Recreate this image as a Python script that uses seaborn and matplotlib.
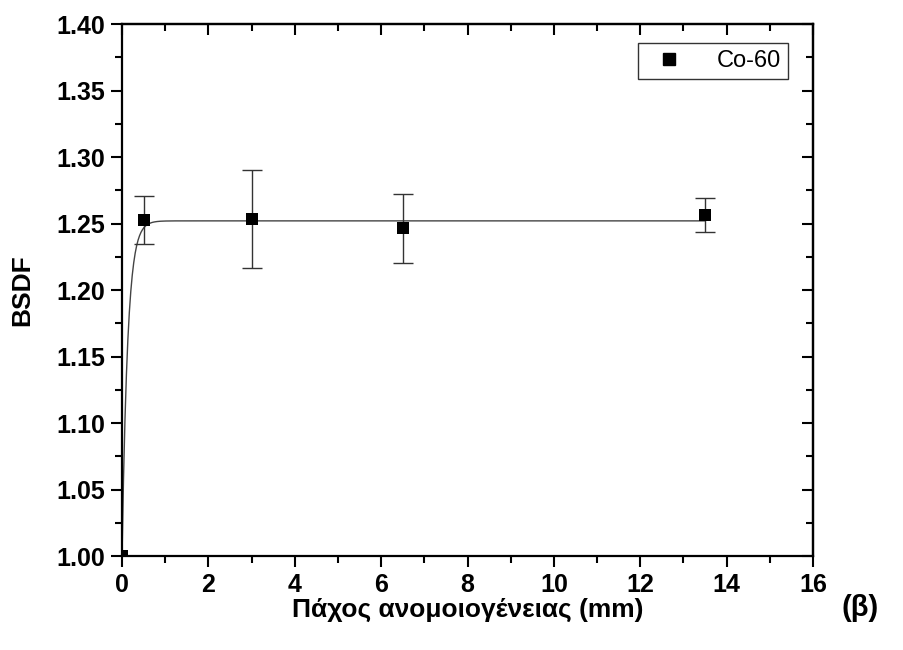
import numpy as np
import pandas as pd
import matplotlib
matplotlib.use("Agg")
import matplotlib.pyplot as plt
from matplotlib.lines import Line2D
from matplotlib.ticker import MultipleLocator, FormatStrFormatter
import seaborn as sns

# Measured BSDF vs thickness of inhomogeneity (Co-60 beam)
thickness_mm = [0.0, 0.5, 3.0, 6.5, 13.5]
bsdf = [1.000, 1.2526, 1.2534, 1.2464, 1.2564]
err_low = [0.0, 0.0182, 0.0371, 0.0263, 0.0130]
err_high = [0.0, 0.0179, 0.0368, 0.0258, 0.0130]

# Saturating exponential fit: y = y_sat - amp * exp(-x / tau)
fit_y_sat = 1.252
fit_amp = 0.252
fit_tau = 0.13

sns.set_style("white")
plt.rcParams["font.family"] = ["Liberation Sans", "DejaVu Sans"]
plt.rcParams.update({"text.color": "black", "axes.labelcolor": "black",
                     "xtick.color": "black", "ytick.color": "black",
                     "axes.edgecolor": "black"})

fig = plt.figure(figsize=(9.04, 6.5), dpi=100)
ax = fig.add_axes([0.135, 0.1446, 0.7643, 0.8184])

x_fit = np.linspace(0, max(thickness_mm), 800)
fit_df = pd.DataFrame({"x": x_fit,
                       "y": fit_y_sat - fit_amp * np.exp(-x_fit / fit_tau)})
sns.lineplot(data=fit_df, x="x", y="y", ax=ax, color="#444444",
             linewidth=1.0, zorder=2)

ax.errorbar(thickness_mm[1:], bsdf[1:],
            yerr=[err_low[1:], err_high[1:]], fmt="none",
            ecolor="#333333", elinewidth=1.0, capsize=7, capthick=1.0,
            zorder=3)

pts = pd.DataFrame({"x": thickness_mm, "y": bsdf})
sns.scatterplot(data=pts, x="x", y="y", ax=ax, marker="s", s=64,
                color="black", edgecolor="black", linewidth=0, zorder=4)

ax.set_xlim(0, 16)
ax.set_ylim(1.00, 1.40)
ax.xaxis.set_major_locator(MultipleLocator(2))
ax.xaxis.set_minor_locator(MultipleLocator(1))
ax.yaxis.set_major_locator(MultipleLocator(0.05))
ax.yaxis.set_minor_locator(MultipleLocator(0.025))
ax.yaxis.set_major_formatter(FormatStrFormatter("%.2f"))

for sp in ax.spines.values():
    sp.set_visible(True)
    sp.set_linewidth(1.6)
    sp.set_color("black")

ax.tick_params(which="both", bottom=True, left=True, top=False, right=False)
ax.tick_params(which="major", direction="out", length=8, width=1.5,
               labelsize=18, pad=4, color="black", labelcolor="black")
ax.tick_params(which="minor", direction="out", length=5, width=1.5,
               color="black")
for lab in ax.get_xticklabels() + ax.get_yticklabels():
    lab.set_fontweight("bold")

# Inward ticks on the top and right frame
top = ax.secondary_xaxis("top")
top.xaxis.set_major_locator(MultipleLocator(2))
top.xaxis.set_minor_locator(MultipleLocator(1))
top.tick_params(which="both", top=True, labeltop=False)
top.tick_params(which="major", direction="in", length=8, width=1.5)
top.tick_params(which="minor", direction="in", length=5, width=1.5)
top.spines["top"].set_linewidth(1.6)
right = ax.secondary_yaxis("right")
right.yaxis.set_major_locator(MultipleLocator(0.05))
right.yaxis.set_minor_locator(MultipleLocator(0.025))
right.tick_params(which="both", right=True, labelright=False)
right.tick_params(which="major", direction="in", length=8, width=1.5)
right.tick_params(which="minor", direction="in", length=5, width=1.5)
right.spines["right"].set_linewidth(1.6)

ax.set_xlabel("Πάχος ανομοιογένειας (mm)", fontsize=19, fontweight="bold",
              labelpad=1)
ax.set_ylabel("BSDF", fontsize=19, fontweight="bold", labelpad=16)
fig.text(0.951, 0.065, "(β)", fontsize=21, fontweight="bold",
         ha="center", va="center")

handle = Line2D([], [], marker="s", linestyle="none", color="black",
                markersize=8)
leg = ax.legend([handle], ["Co-60"], loc="upper right",
                bbox_to_anchor=(0.9635, 0.964), fontsize=17, frameon=True,
                fancybox=False, borderpad=0.3, handletextpad=1.0,
                handlelength=2.0, borderaxespad=0)
leg.get_frame().set_edgecolor("black")
leg.get_frame().set_linewidth(1.0)
for t in leg.get_texts():
    t.set_color("black")

fig.savefig("out.png", dpi=100)
